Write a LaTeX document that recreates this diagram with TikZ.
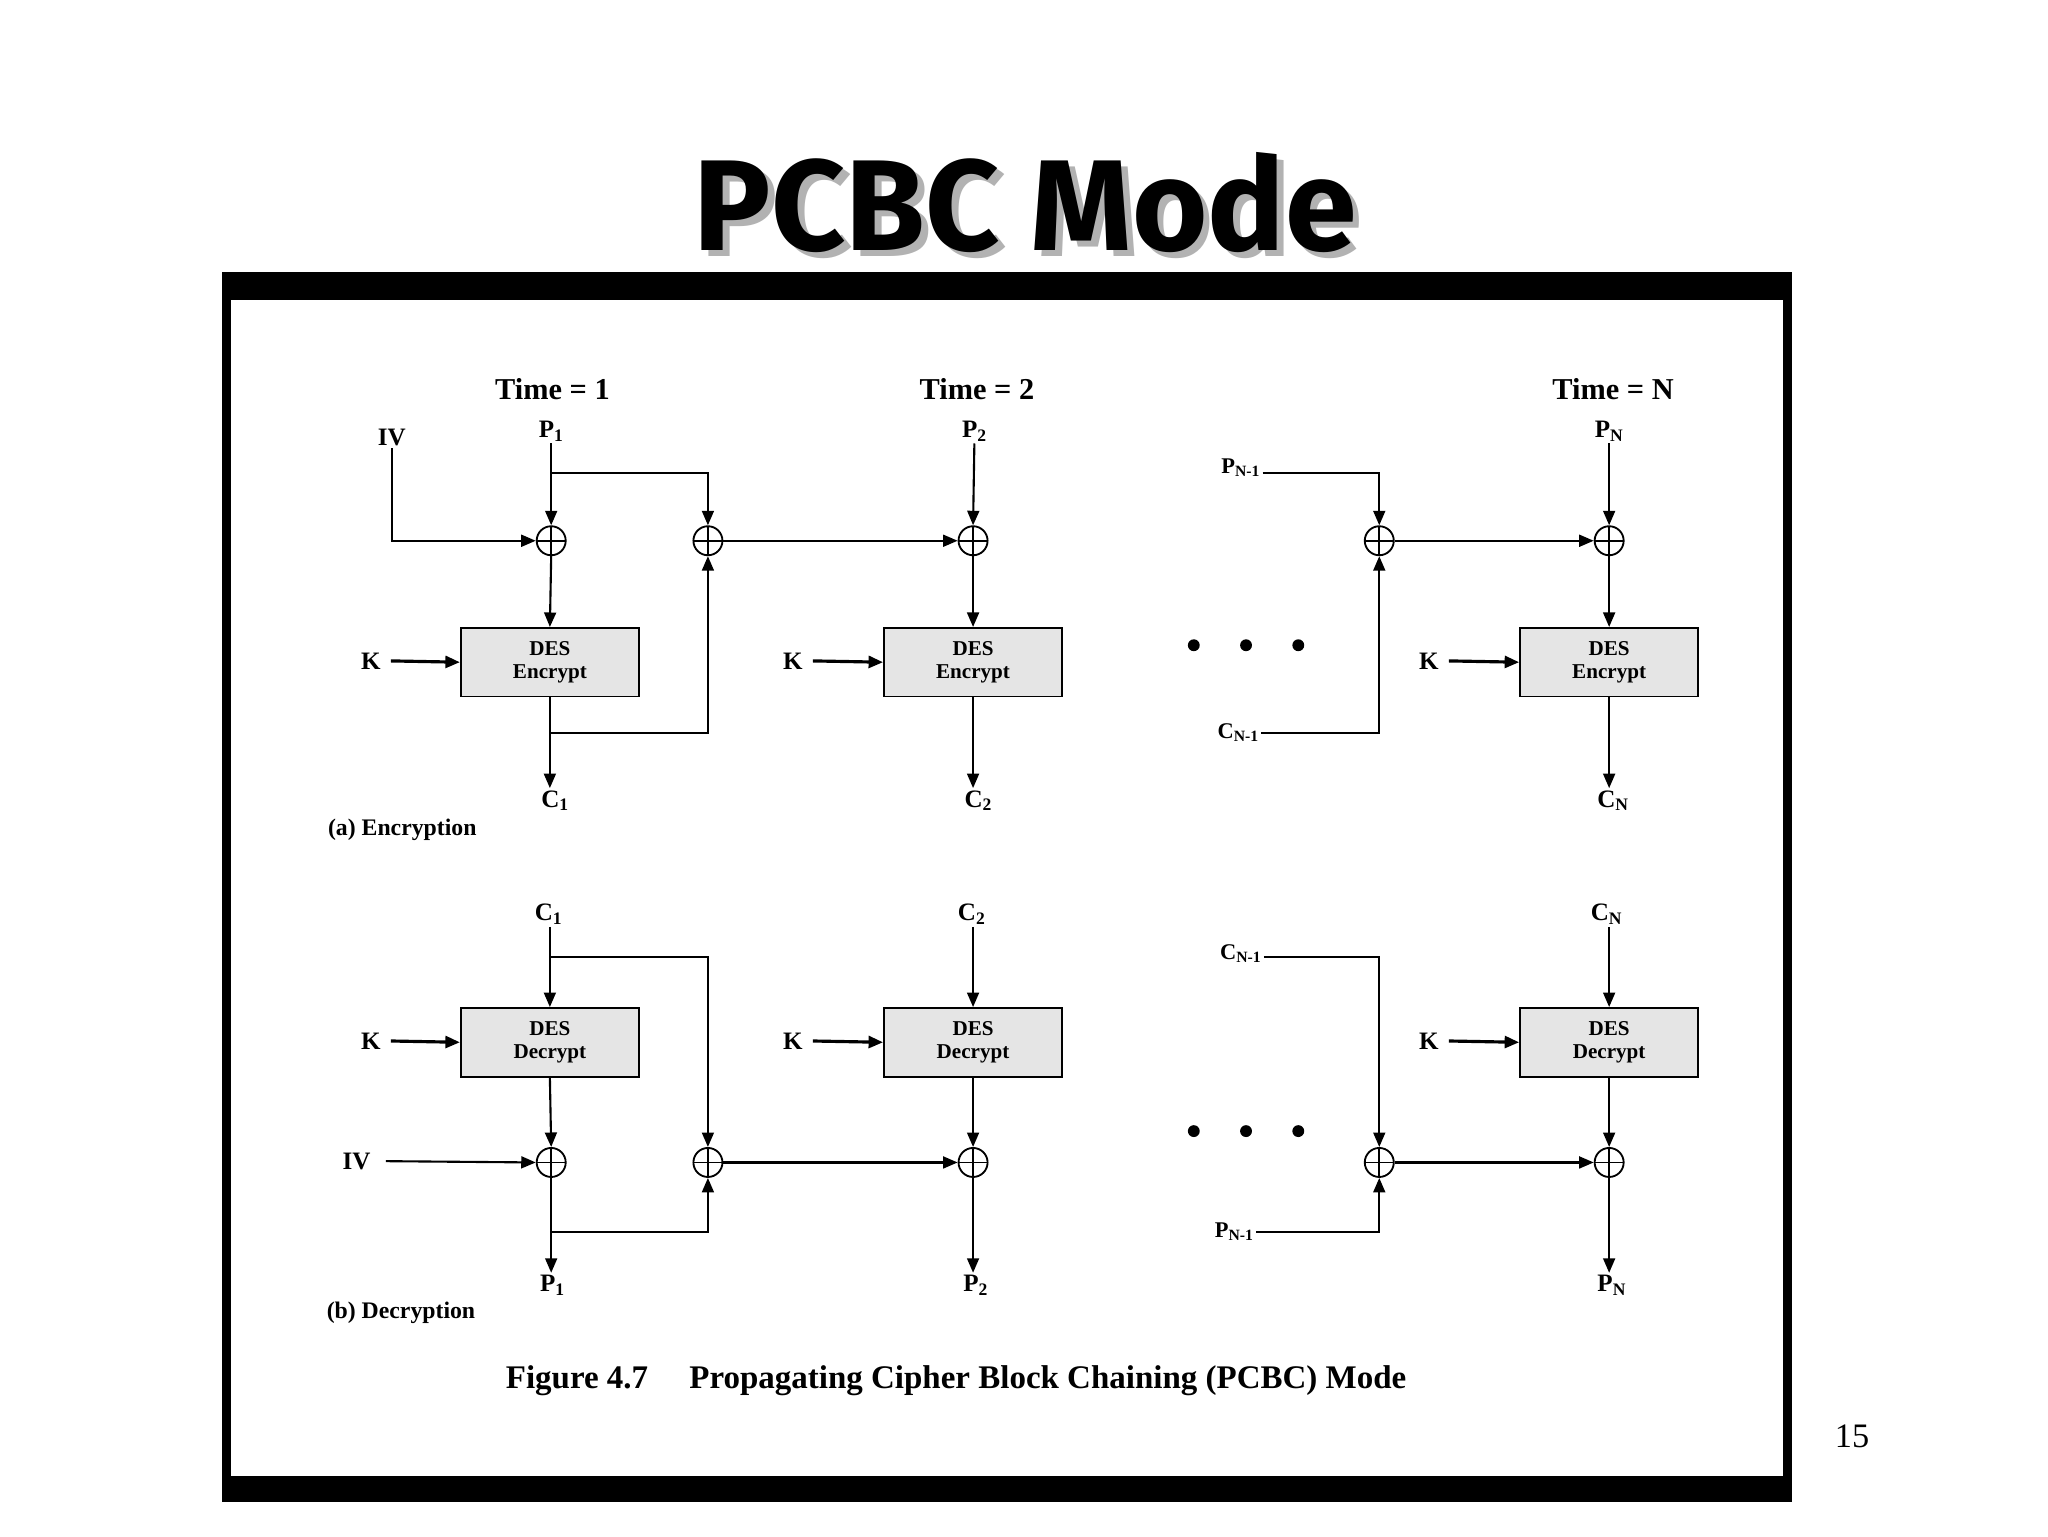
\documentclass[tikz,border=0pt]{standalone}
\usepackage{fontspec}
\setmainfont{Liberation Serif}
\newfontfamily\titlefont{Fira Sans}
\usetikzlibrary{arrows.meta}
\begin{document}
\begin{tikzpicture}[x=0.99pt,y=-0.99pt,
  line width=1.6pt,
  arr/.style={-{Triangle[length=11pt,width=9pt]}},
  xor/.style={circle,draw,line width=1.4pt,minimum size=22pt,inner sep=0pt,fill=white,
    path picture={\draw[line width=1.2pt] (path picture bounding box.north) -- (path picture bounding box.south)
      (path picture bounding box.west) -- (path picture bounding box.east);}},
  des/.style={draw,line width=1.4pt,fill=gray!20,minimum width=135pt,minimum height=52pt,inner sep=0pt,
    align=center,font=\bfseries\fontsize{16}{17}\selectfont},
  lab/.style={font=\bfseries\fontsize{19}{20}\selectfont,inner sep=1pt},
  tim/.style={font=\bfseries\fontsize{23}{24}\selectfont}]
\useasboundingbox (0,0) rectangle (1568,1176);
\fill[white] (0,0) rectangle (1568,1176);
% title
\node[font=\titlefont\bfseries\fontsize{98}{98}\selectfont,text=gray!60] at (790,160) {PCBC Mode};
\node[font=\titlefont\bfseries\fontsize{98}{98}\selectfont] at (785,155) {PCBC Mode};
% frame
\fill[black] (170,208) rectangle (1372,1150);
\fill[white] (177,230) rectangle (1365,1130);
\node[font=\fontsize{26}{26}\selectfont] at (1418,1100) {15};
% ---------- encryption
\node[tim] at (423,298) {Time = 1};
\node[tim] at (748,298) {Time = 2};
\node[tim] at (1235,298) {Time = N};
\node[lab] (iv) at (300,335) {IV};
\node[lab] (p1) at (422,330) {P\textsubscript{1}};
\node[lab] (p2) at (746,330) {P\textsubscript{2}};
\node[lab] (pn) at (1232,330) {P\textsubscript{N}};
\node[xor] (x1) at (422,414) {};
\node[xor] (x2) at (542,414) {};
\node[xor] (x3) at (745,414) {};
\node[xor] (x4) at (1056,414) {};
\node[xor] (x5) at (1232,414) {};
\node[des] (e1) at (421,507) {DES\\Encrypt};
\node[des] (e2) at (745,507) {DES\\Encrypt};
\node[des] (e3) at (1232,507) {DES\\Encrypt};
\foreach \b/\kx in {e1/284,e2/607,e3/1094}{
  \node[lab] (k\b) at (\kx,506) {K};
  \draw[arr,line width=2.4pt] (k\b.east) ++(6,0) -- (\b.west);}
\node[lab] (c1) at (425,613) {C\textsubscript{1}};
\node[lab] (c2) at (749,613) {C\textsubscript{2}};
\node[lab] (cn) at (1235,613) {C\textsubscript{N}};
\coordinate (iva) at (300,414);
\draw[arr] (iv.south) -- (iva) -- (x1.west);
\draw[arr] (p1.south) -- (x1.north);
\coordinate (pb) at (422,362); \coordinate (pbr) at (542,362);
\draw[arr] (pb) -- (pbr) -- (x2.north);
\draw[arr] (x1.south) -- (e1.north);
\draw[arr] (e1.south) -- (c1.north -| e1.south);
\coordinate (cb) at (422,561); \coordinate (cbr) at (542,561);
\draw[arr] (cb) -- (cbr) -- (x2.south);
\draw[arr] (x2.east) -- (x3.west);
\draw[arr] (p2.south) -- (x3.north);
\draw[arr] (x3.south) -- (e2.north);
\draw[arr] (e2.south) -- (c2.north -| e2.south);
\foreach \dx in {914,954,994} \fill (\dx,494) circle (4.5pt);
\node[lab,font=\bfseries\fontsize{17}{18}\selectfont] (pn1) at (950,358) {P\textsubscript{N-1}};
\node[lab,font=\bfseries\fontsize{17}{18}\selectfont] (cn1) at (948,561) {C\textsubscript{N-1}};
\coordinate (pn1r) at (1056,362); \coordinate (cn1r) at (1056,561);
\draw[arr] (pn1.east |- pn1r) -- (pn1r) -- (x4.north);
\draw[arr] (cn1.east |- cn1r) -- (cn1r) -- (x4.south);
\draw[arr] (x4.east) -- (x5.west);
\draw[arr] (pn.south) -- (x5.north);
\draw[arr] (x5.south) -- (e3.north);
\draw[arr] (e3.south) -- (cn.north -| e3.south);
\node[font=\bfseries\fontsize{18}{19}\selectfont] at (308,635) {(a) Encryption};
% ---------- decryption
\node[lab] (dc1) at (420,700) {C\textsubscript{1}};
\node[lab] (dc2) at (744,700) {C\textsubscript{2}};
\node[lab] (dcn) at (1230,700) {C\textsubscript{N}};
\node[des] (d1) at (421,798) {DES\\Decrypt};
\node[des] (d2) at (745,798) {DES\\Decrypt};
\node[des] (d3) at (1232,798) {DES\\Decrypt};
\foreach \b/\kx in {d1/284,d2/607,d3/1094}{
  \node[lab] (k\b) at (\kx,797) {K};
  \draw[arr,line width=2.4pt] (k\b.east) ++(6,0) -- (\b.west);}
\node[xor] (y1) at (422,890) {};
\node[xor] (y2) at (542,890) {};
\node[xor] (y3) at (745,890) {};
\node[xor] (y4) at (1056,890) {};
\node[xor] (y5) at (1232,890) {};
\node[lab] (div) at (273,889) {IV};
\node[lab] (dp1) at (423,984) {P\textsubscript{1}};
\node[lab] (dp2) at (747,984) {P\textsubscript{2}};
\node[lab] (dpn) at (1234,984) {P\textsubscript{N}};
\draw[arr] (dc1.south -| d1.north) -- (d1.north);
\coordinate (db) at (422,733); \coordinate (dbr) at (542,733);
\draw[arr] (db) -- (dbr) -- (y2.north);
\draw[arr] (d1.south) -- (y1.north);
\draw[arr] (div.east) ++(10,0) -- (y1.west);
\draw[arr] (y1.south) -- (dp1.north -| y1.south);
\coordinate (eb) at (422,943); \coordinate (ebr) at (542,943);
\draw[arr] (eb) -- (ebr) -- (y2.south);
\draw[arr] (y2.east) -- (y3.west);
\draw[arr] (dc2.south -| d2.north) -- (d2.north);
\draw[arr] (d2.south) -- (y3.north);
\draw[arr] (y3.south) -- (dp2.north -| y3.south);
\foreach \dx in {914,954,994} \fill (\dx,866) circle (4.5pt);
\node[lab,font=\bfseries\fontsize{17}{18}\selectfont] (dcn1) at (950,730) {C\textsubscript{N-1}};
\node[lab,font=\bfseries\fontsize{17}{18}\selectfont] (dpn1) at (945,943) {P\textsubscript{N-1}};
\coordinate (dcr) at (1056,733); \coordinate (dpr) at (1056,943);
\draw[arr] (dcn1.east |- dcr) -- (dcr) -- (y4.north);
\draw[arr] (dpn1.east |- dpr) -- (dpr) -- (y4.south);
\draw[arr] (y4.east) -- (y5.west);
\draw[arr] (dcn.south -| d3.north) -- (d3.north);
\draw[arr] (d3.south) -- (y5.north);
\draw[arr] (y5.south) -- (dpn.north -| y5.south);
\node[font=\bfseries\fontsize{18}{19}\selectfont] at (307,1005) {(b) Decryption};
\node[font=\bfseries\fontsize{25}{26}\selectfont] at (732,1057) {Figure 4.7\quad\ Propagating Cipher Block Chaining (PCBC) Mode};
\end{tikzpicture}
\end{document}
